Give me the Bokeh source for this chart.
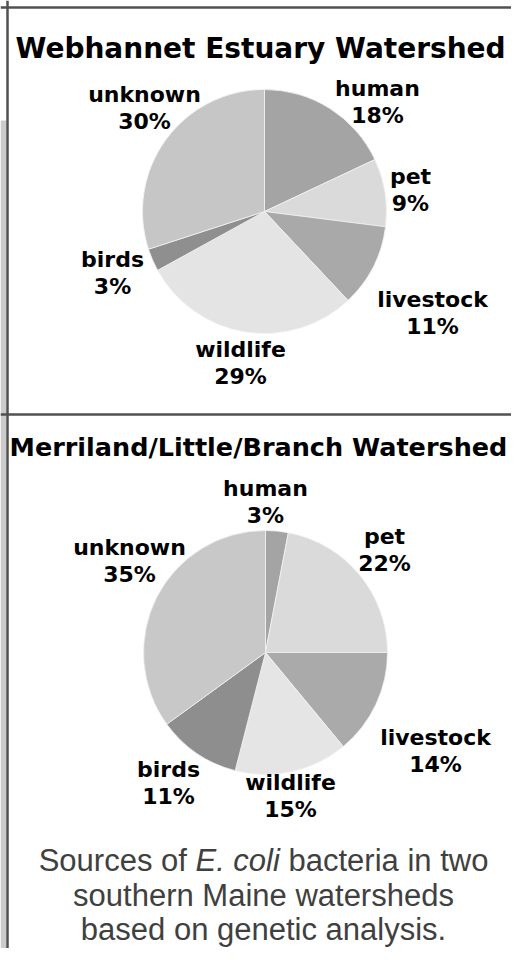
import math
from bokeh.plotting import figure
from bokeh.models import Range1d, ColumnDataSource, Span
from bokeh.embed import file_html
from bokeh.resources import INLINE
from bokeh.core.properties import value

# ---------------- data ----------------
categories = ["human", "pet", "livestock", "wildlife", "birds", "unknown"]
webhannet_pct = [18, 9, 11, 29, 3, 30]
merriland_pct = [3, 22, 14, 15, 11, 35]
titles = ["Webhannet Estuary Watershed", "Merriland/Little/Branch Watershed"]
caption_parts = ["Sources of", "E. coli", "bacteria in two"]
caption_lines = ["southern Maine watersheds", "based on genetic analysis."]

# ---------------- styles / layout ----------------
colors1 = ["#a4a4a4", "#dadada", "#a9a9a9", "#e4e4e4", "#8f8f8f", "#c6c6c6"]
colors2 = ["#a4a4a4", "#dadada", "#aaaaaa", "#e5e5e5", "#8e8e8e", "#c8c8c8"]

W, H = 511, 948


def Y(sy):
    return H - sy


pies = [
    dict(cx=264, cy=211, r=122, values=webhannet_pct, colors=colors1,
         lab=[(377, 101), (410, 189), (432, 312), (240, 362), (112, 272), (144, 107)],
         title_x=15, title_y=48, title_fs="28px"),
    dict(cx=265, cy=652, r=122, values=merriland_pct, colors=colors2,
         lab=[(265, 501), (384, 549), (435, 750), (290, 795), (168, 782), (129, 560)],
         title_x=9, title_y=446, title_fs="25.5px"),
]

BOLD = value("DejaVu Sans")

p = figure(width=W, height=H, x_range=Range1d(0, W), y_range=Range1d(0, H),
           output_backend="svg", toolbar_location=None, min_border=0)
p.axis.visible = False
p.grid.visible = False
p.outline_line_color = None
p.background_fill_color = "white"
p.border_fill_color = "white"

# textured backdrop strip at the far left
p.quad(left=0, right=6, top=Y(120), bottom=0, fill_color="#cbcbcb", line_color=None)

for pie in pies:
    vals = pie["values"]
    total = float(sum(vals))
    starts, ends = [], []
    cum = 0.0
    for v in vals:
        starts.append(math.pi / 2 - 2 * math.pi * cum / total)
        cum += v
        ends.append(math.pi / 2 - 2 * math.pi * cum / total)
    src = ColumnDataSource(dict(start=starts, end=ends, color=pie["colors"], cat=categories, pct=vals))
    p.wedge(x=pie["cx"], y=Y(pie["cy"]), radius=pie["r"], start_angle="start", end_angle="end",
            direction="clock", fill_color="color", line_color="#f2f2f2", line_width=0.8, source=src)

    labels = [f"{c}\n{v}%" for c, v in zip(categories, vals)]
    lsrc = ColumnDataSource(dict(x=[xy[0] for xy in pie["lab"]], y=[Y(xy[1]) for xy in pie["lab"]], t=labels))
    p.text(x="x", y="y", text="t", source=lsrc, text_font=BOLD, text_font_style="bold",
           text_font_size="22px", text_align="center", text_baseline="middle",
           text_line_height=1.08, text_color="black")

for pie, title in zip(pies, titles):
    p.text(x=[pie["title_x"]], y=[Y(pie["title_y"])], text=[title], text_font=BOLD,
           text_font_style="bold", text_font_size=pie["title_fs"], text_align="left",
           text_baseline="middle", text_color="black")

# caption
AW = {" ": 278, ".": 278, "S": 667, "E": 667, "M": 833, "a": 556, "b": 556, "c": 500, "d": 556,
      "e": 556, "f": 278, "g": 556, "h": 556, "i": 222, "l": 222, "n": 556, "o": 556, "r": 333,
      "s": 500, "t": 278, "u": 556, "w": 722, "y": 500}
CAP_FS = 31
CAP_CX = 263


def tw(s):
    return sum(AW.get(ch, 556) for ch in s) / 1000.0 * CAP_FS


full = " ".join(caption_parts)
x0 = CAP_CX - tw(full) / 2
xs = [x0, x0 + tw(caption_parts[0] + " "), x0 + tw(caption_parts[0] + " " + caption_parts[1] + " ")]
styles = ["normal", "italic", "normal"]
for part, xx, st in zip(caption_parts, xs, styles):
    p.text(x=[xx], y=[Y(860)], text=[part], text_font=value("Liberation Sans"), text_font_style=st,
           text_font_size=f"{CAP_FS}px", text_align="left", text_baseline="middle",
           text_color="#404040")
for line, by in zip(caption_lines, [895, 929]):
    p.text(x=[CAP_CX], y=[Y(by)], text=[line], text_font=value("Liberation Sans"),
           text_font_size=f"{CAP_FS}px", text_align="center", text_baseline="middle",
           text_color="#404040")

# frame lines
p.add_layout(Span(location=Y(7), dimension="width", line_color="#505050", line_width=2.5))
p.add_layout(Span(location=7, dimension="height", line_color="#505050", line_width=2.5))
p.add_layout(Span(location=Y(414), dimension="width", line_color="#505050", line_width=2.5))

open("out.html", "w").write(file_html(p, INLINE))
